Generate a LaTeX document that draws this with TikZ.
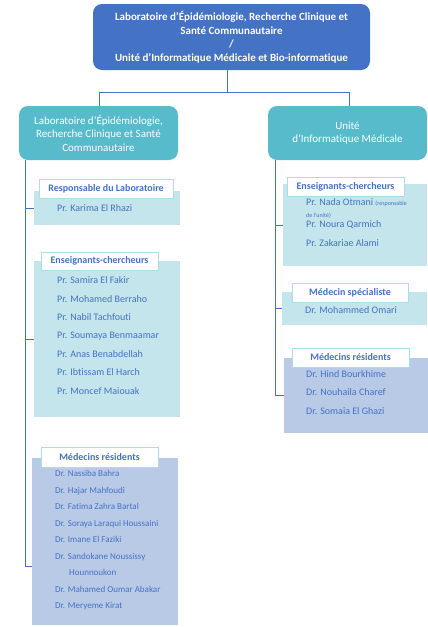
\documentclass[tikz,border=0pt]{standalone}
\usepackage{fontspec}
\setmainfont{Carlito}[Ligatures=NoCommon]
\definecolor{topblue}{HTML}{4472C4}
\definecolor{teal1}{HTML}{57BBCC}
\definecolor{lteal}{HTML}{C4E5EB}
\definecolor{lav}{HTML}{B9CAE6}
\definecolor{hborder}{HTML}{A8DEE5}
\definecolor{tblue}{HTML}{4472C4}
\begin{document}
\begin{tikzpicture}[x=1pt,y=-1pt,
  topbox/.style={draw=none, fill=topblue, rounded corners=9pt, text=white, align=center,
    font=\fontsize{11}{13.5}\selectfont\bfseries, inner sep=0pt},
  tealbox/.style={draw=none, fill=teal1, rounded corners=9pt, text=white, align=center,
    font=\fontsize{11}{13.5}\selectfont, inner sep=0pt, minimum width=159pt, minimum height=54pt},
  fillbox/.style={draw=none, inner sep=0pt},
  hdr/.style={draw=hborder, line width=1pt, fill=white, text=tblue, inner sep=0pt,
    font=\fontsize{10}{12}\selectfont\bfseries},
  itm/.style={anchor=west, inner sep=0pt, text=tblue, font=\fontsize{10}{12}\selectfont,
    text height=1.5ex, text depth=.3ex},
  itms/.style={itm, font=\fontsize{9}{11}\selectfont},
  conn/.style={draw=topblue, line width=1pt}
]
\useasboundingbox (0,0) rectangle (428,627);

% top box
\node[topbox, minimum width=277pt, minimum height=66pt] (top) at (231.5,37)
  {Laboratoire d’Épidémiologie, Recherche Clinique et\\Santé Communautaire\\/\\Unité d’Informatique Médicale et Bio-informatique};

% second level
\node[tealbox] (lbox) at (98.5,133) {Laboratoire d’Épidémiologie,\\Recherche Clinique et Santé\\Communautaire};
\node[tealbox] (rbox) at (347.5,133) {Unité\\d’Informatique Médicale};

% fill boxes
\node[fillbox, fill=lteal, minimum width=146pt, minimum height=34pt] (respF) at (107,208) {};
\node[fillbox, fill=lteal, minimum width=146pt, minimum height=156pt] (ensF) at (107,339) {};
\node[fillbox, fill=lav, minimum width=146pt, minimum height=167pt] (resF) at (105,541.5) {};
\node[fillbox, fill=lteal, minimum width=144pt, minimum height=82pt] (rensF) at (355,225) {};
\node[fillbox, fill=lteal, minimum width=145pt, minimum height=33pt] (specF) at (354.5,308.5) {};
\node[fillbox, fill=lav, minimum width=144pt, minimum height=75pt] (rresF) at (356,395.5) {};

% headers
\node[hdr, minimum width=134pt, minimum height=19pt] (respH) at (106,188.5) {Responsable du Laboratoire};
\node[hdr, minimum width=117pt, minimum height=18pt] (ensH) at (99.5,261) {Enseignants-chercheurs};
\node[hdr, minimum width=117pt, minimum height=20pt] (resH) at (99.5,457) {Médecins résidents};
\node[hdr, minimum width=117pt, minimum height=19pt] (rensH) at (345.5,186.5) {Enseignants-chercheurs};
\node[hdr, minimum width=116pt, minimum height=19pt] (specH) at (350,292.5) {Médecin spécialiste};
\node[hdr, minimum width=117pt, minimum height=19pt] (rresH) at (350.5,357.5) {Médecins résidents};

% items left
\node[itm] (k1) at (57,209) {Pr. Karima El Rhazi};
\node[itm] (e1) at (57,281) {Pr. Samira El Fakir};
\node[itm] (e2) at (57,300) {Pr. Mohamed Berraho};
\node[itm] (e3) at (57,318) {Pr. Nabil Tachfouti};
\node[itm] (e4) at (57,336) {Pr. Soumaya Benmaamar};
\node[itm] (e5) at (57,355) {Pr. Anas Benabdellah};
\node[itm] (e6) at (57,373) {Pr. Ibtissam El Harch};
\node[itm] (e7) at (57,392) {Pr. Moncef Maiouak};
\node[itms] (r1) at (55,474) {Dr. Nassiba Bahra};
\node[itms] (r2) at (55,491) {Dr. Hajar Mahfoudi};
\node[itms] (r3) at (55,507) {Dr. Fatima Zahra Bartal};
\node[itms] (r4) at (55,524) {Dr. Soraya Laraqui Houssaini};
\node[itms] (r5) at (55,540) {Dr. Imane El Faziki};
\node[itms] (r6) at (55,557) {Dr. Sandokane Noussissy};
\node[itms] (r6b) at (69,573) {Hounnoukon};
\node[itms] (r7) at (55,590) {Dr. Mahamed Oumar Abakar};
\node[itms] (r8) at (55,606) {Dr. Meryeme Kirat};

% items right
\node[itm] (n1) at (306,203) {Pr. Nada Otmani {\fontsize{6}{7}\selectfont (responsable}};
\node[itm, font=\fontsize{6}{7}\selectfont] (n1b) at (306,215) {de l’unité)};
\node[itm] (n2) at (306,225) {Pr. Noura Qarmich};
\node[itm] (n3) at (306,244) {Pr. Zakariae Alami};
\node[itm] (s1) at (305,311) {Dr. Mohammed Omari};
\node[itm] (q1) at (306,375) {Dr. Hind Bourkhime};
\node[itm] (q2) at (306,393) {Dr. Nouhaila Charef};
\node[itm] (q3) at (306,412) {Dr. Somaia El Ghazi};

% connectors
\coordinate (tx) at (227,0);
\coordinate (j) at (227,92);
\coordinate (jl) at (99,92);
\coordinate (jr) at (349,92);
\draw[conn] (tx |- top.south) -- (j);
\draw[conn] (jl |- lbox.north) -- (jl) -- (jr) -- (jr |- rbox.north);

\coordinate (lx) at (25,0);
\coordinate (resStub) at (32,566);
\draw[conn] (lx |- lbox.south) |- (resStub);
\draw[conn] (lx |- respF.west) -- (respF.west);
\draw[conn] (lx |- ensF.west) -- (ensF.west);

\coordinate (rx) at (275,0);
\draw[conn] (rx |- rbox.south) |- (rresF.west);
\draw[conn] (rx |- rensF.west) -- (rensF.west);
\draw[conn] (rx |- specF.west) -- (specF.west);
\end{tikzpicture}
\end{document}
